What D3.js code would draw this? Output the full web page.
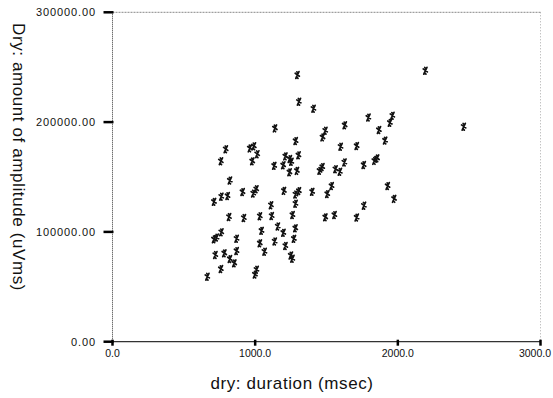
<!DOCTYPE html>
<html><head><meta charset="utf-8">
<script src="https://cdn.jsdelivr.net/npm/d3@7"></script>
<style>body{margin:0;background:#fff}svg{display:block}text{font-family:"Liberation Sans",Arial,sans-serif;fill:#111}</style>
</head><body><svg id="c" width="553" height="398"></svg>
<script>
const durationMs = [1296,2193,1307,1409,1794,1962,1945,1628,2462,1868,1139,1492,1473,1911,1284,1599,1712,794,963,991,1015,760,980,1212,1243,1254,1304,1134,1197,1241,1293,1452,1471,1563,1594,1626,1761,1836,1855,823,912,987,1008,1202,1283,1307,1400,1506,1536,1929,1974,712,763,807,1111,1283,1763,817,921,1033,1116,1262,1492,1556,1712,763,730,712,870,1045,1159,1198,1282,1137,1272,1033,1212,1066,870,721,784,823,854,1250,1261,760,665,1010,999];
const amplitude = [242900,246800,218600,212200,204200,205800,199400,197100,195800,192800,194300,192200,186100,183200,182800,177600,178200,175300,176100,178000,170800,164400,164300,168800,166400,163900,169800,160200,160700,154300,155600,155700,159100,157100,154800,163300,160900,164700,167000,146800,136300,135000,138900,137400,134100,137200,136500,134500,141800,141800,130100,127400,132100,132700,124300,125700,123900,113600,112700,114300,114500,115400,113300,115400,113100,99700,94900,93300,93800,101000,105000,99200,103300,91300,93700,89600,87200,82000,82600,79000,80500,75300,71400,78500,75600,66200,59200,65600,61200];
const xTicks = [0,1000,2000,3000];
const xTickLabels = ["0.0","1000.0","2000.0","3000.0"];
const yTicks = [0,100000,200000,300000];
const yTickLabels = ["0.00","100000.00","200000.00","300000.00"];
const xTitle = "dry: duration (msec)";
const yTitle = "Dry: amount of amplitude (uVms)";

const svg = d3.select("#c");
const L=112.5, R=540.5, T=12.3, B=341.7;
const x = d3.scaleLinear().domain([0,3000]).range([L,R]);
const y = d3.scaleLinear().domain([0,300000]).range([B,T]);

svg.append("line").attr("x1",L).attr("x2",R).attr("y1",T).attr("y2",T).attr("stroke","#888").attr("stroke-width",1).attr("stroke-dasharray","2,1");
svg.append("line").attr("x1",R).attr("x2",R).attr("y1",T).attr("y2",B).attr("stroke","#aaa").attr("stroke-width",1).attr("stroke-dasharray","1,2");
svg.append("line").attr("x1",L).attr("x2",L).attr("y1",T).attr("y2",B).attr("stroke","#333").attr("stroke-width",1).attr("stroke-dasharray","1,1");
svg.append("line").attr("x1",L).attr("x2",R).attr("y1",B).attr("y2",B).attr("stroke","#333").attr("stroke-width",1.2);

const xa = svg.append("g");
xa.selectAll("line").data(xTicks).join("line")
  .attr("x1",d=>x(d)).attr("x2",d=>x(d)).attr("y1",B-2).attr("y2",B+4)
  .attr("stroke","#000").attr("stroke-width",2.5);
xa.selectAll("text").data(xTicks).join("text")
  .attr("x",(d,i)=>i===xTicks.length-1 ? 551 : x(d))
  .attr("y",B+15)
  .attr("text-anchor",(d,i)=>i===xTicks.length-1 ? "end" : "middle")
  .attr("font-size","10.5px").text((d,i)=>xTickLabels[i]);

const ya = svg.append("g");
ya.selectAll("line").data(yTicks).join("line")
  .attr("x1",L-9).attr("x2",L+1).attr("y1",d=>y(d)).attr("y2",d=>y(d))
  .attr("stroke","#000").attr("stroke-width",2.5);
ya.selectAll("text").data(yTicks).join("text")
  .attr("x",96).attr("y",d=>y(d)+4).attr("text-anchor","end")
  .attr("font-size","11px").attr("letter-spacing","0.9px").text((d,i)=>yTickLabels[i]);

svg.append("text").attr("x",292).attr("y",389).attr("text-anchor","middle")
  .attr("font-size","17px").attr("letter-spacing","0.6px").text(xTitle);
svg.append("text").attr("transform","translate(13,23) rotate(90)").attr("text-anchor","start")
  .attr("font-size","17px").attr("letter-spacing","0.6px").text(yTitle);

const pts = durationMs.map((d,i)=>({x:d,y:amplitude[i]}));
const mark = "M-1.6,3.4 L1.6,-3.4 M-2.2,-1.8 L2.0,1.2 M-0.6,-3.2 L0.8,-1.6 M-1.0,1.8 L0.6,3.4";
svg.append("g").selectAll("path").data(pts).join("path")
  .attr("transform",d=>`translate(${x(d.x)},${y(d.y)})`)
  .attr("d",mark).attr("fill","none").attr("stroke","#111").attr("stroke-width",1.7)
  .attr("stroke-linecap","round");
</script></body></html>
